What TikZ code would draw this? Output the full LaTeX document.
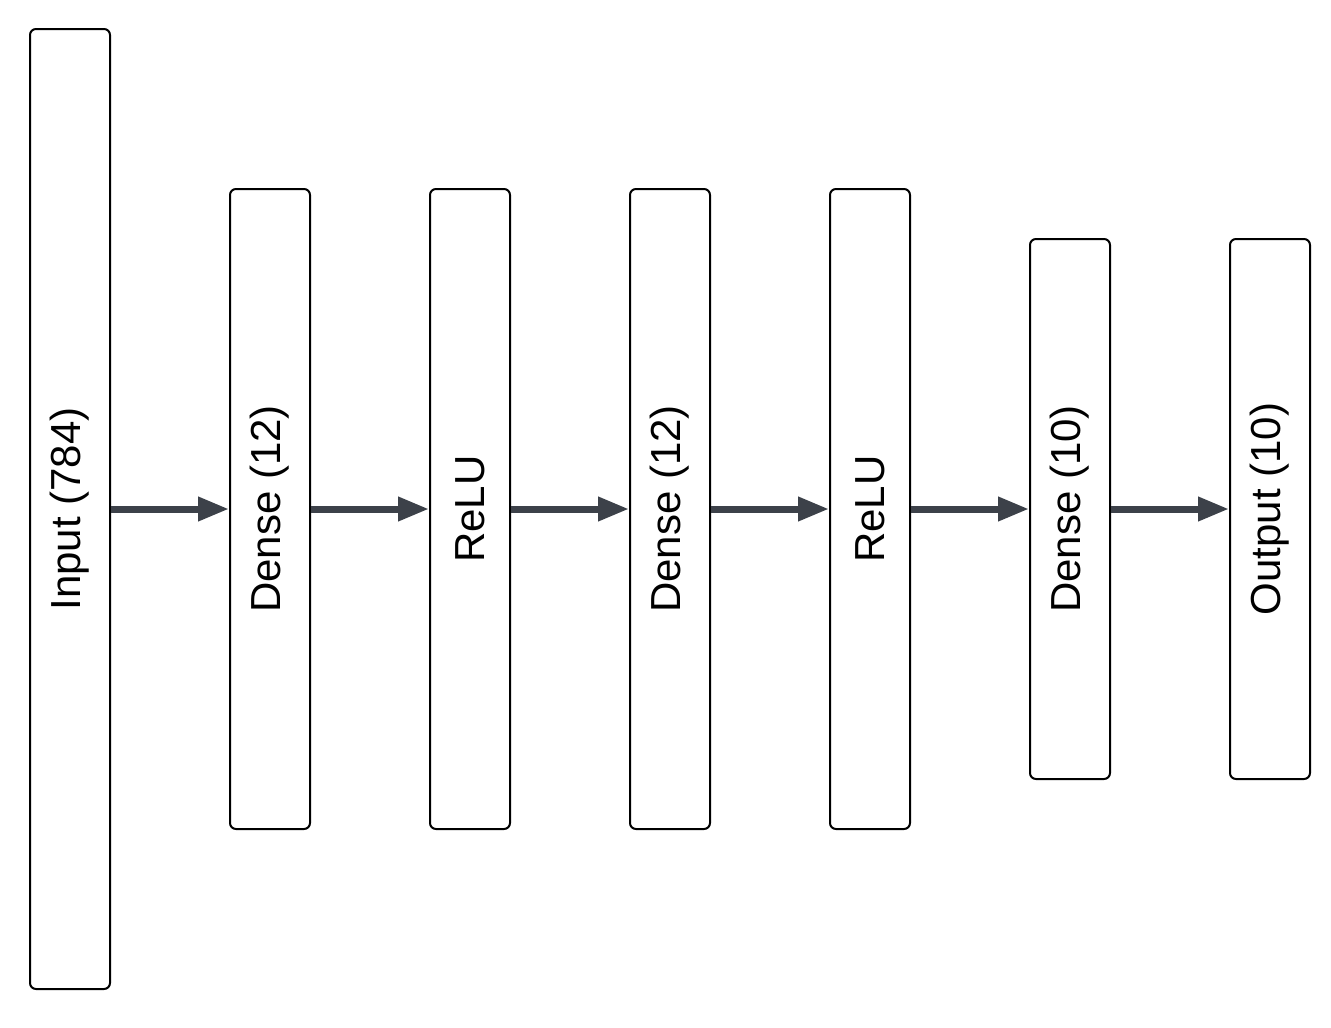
\documentclass[tikz,border=0pt]{standalone}
\usepackage{fontspec}
\setmainfont{Liberation Sans}
\usetikzlibrary{arrows.meta}
\definecolor{flow}{HTML}{3C4149}
\begin{document}
\begin{tikzpicture}[x=1pt,y=-1pt,
  layer/.style={draw=black, line width=2pt, rounded corners=6pt, fill=white,
    rotate=90, minimum height=80pt, inner sep=0pt,
    font=\fontsize{42}{44}\selectfont},
  flowarrow/.style={draw=flow, line width=7pt,
    -{Triangle[length=31pt,width=23pt]}}]
  \useasboundingbox (0,0) rectangle (1331,1028);
  \node[layer, minimum width=960pt] (in)  at (70,509)   {Input (784)};
  \node[layer, minimum width=640pt] (d1)  at (270,509)  {Dense (12)};
  \node[layer, minimum width=640pt] (r1)  at (470,509)  {ReLU};
  \node[layer, minimum width=640pt] (d2)  at (670,509)  {Dense (12)};
  \node[layer, minimum width=640pt] (r2)  at (870,509)  {ReLU};
  \node[layer, minimum width=540pt] (d3)  at (1070,509) {Dense (10)};
  \node[layer, minimum width=540pt] (out) at (1270,509) {Output (10)};
  \foreach \a/\b in {in/d1, d1/r1, r1/d2, d2/r2, r2/d3, d3/out}
    \draw[flowarrow] (\a) -- (\b);
\end{tikzpicture}
\end{document}
